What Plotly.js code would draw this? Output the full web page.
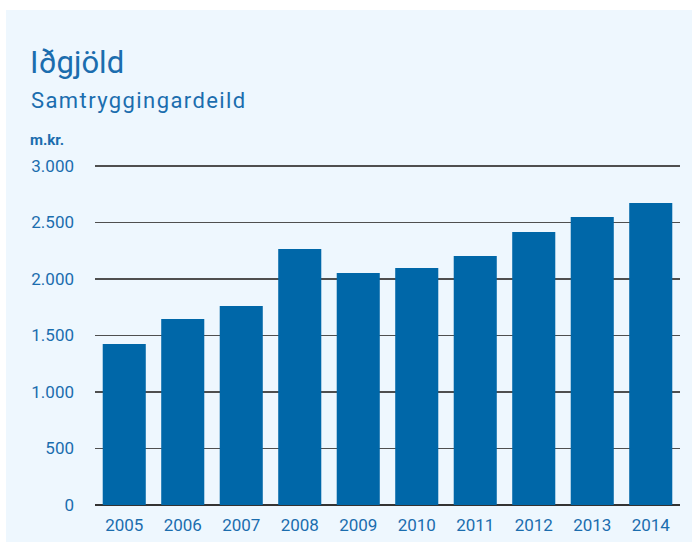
<!DOCTYPE html>
<html>
<head>
<meta charset="utf-8">
<script src="https://cdn.plot.ly/plotly-3.0.1.min.js"></script>
<style>html,body{margin:0;padding:0;background:#fff;}#chart{width:692px;height:542px;}</style>
</head>
<body>
<div id="chart"></div>
<script>
const years = ["2005","2006","2007","2008","2009","2010","2011","2012","2013","2014"];
const values = [1425, 1646, 1761, 2265, 2053, 2097, 2204, 2416, 2549, 2673];
const yTicks = [0, 500, 1000, 1500, 2000, 2500, 3000];
const titleText = "Iðgjöld";
const subtitleText = "Samtryggingardeild";
const unitText = "m.kr.";

const textColor = "#1B6DAE";
const L = 95, R = 12, T = 163, B = 37, W = 692, H = 542;
const pw = W - L - R, ph = H - T - B;
const px = x => (x - L) / pw;
const py = y => (H - B - y) / ph;
const yTop = 3000 * ph / 339;

const trace = {
  type: "bar",
  x: years,
  y: values,
  marker: {color: "#0067A8"},
  hoverinfo: "x+y"
};

const layout = {
  width: W, height: H,
  margin: {l: L, r: R, t: T, b: B, pad: 0},
  paper_bgcolor: "#ffffff",
  plot_bgcolor: "rgba(0,0,0,0)",
  separators: ",.",
  bargap: 0.264,
  showlegend: false,
  font: {family: "Roboto, sans-serif", color: textColor},
  xaxis: {
    type: "category",
    showgrid: false,
    showline: false,
    zeroline: false,
    ticks: "",
    tickfont: {size: 17, color: textColor},
    ticklabelstandoff: 8
  },
  yaxis: {
    range: [0, yTop],
    tickvals: yTicks,
    tickformat: ",d",
    showgrid: true,
    gridcolor: "#4f4f4f",
    gridwidth: 1.6,
    zeroline: true,
    zerolinecolor: "#333333",
    zerolinewidth: 1.6,
    showline: false,
    ticks: "",
    tickfont: {size: 17, color: textColor},
    ticklabelstandoff: 20
  },
  shapes: [{
    type: "rect", xref: "paper", yref: "paper", layer: "below",
    x0: px(6), x1: px(W + 10), y0: py(H + 10), y1: py(10),
    fillcolor: "#EEF7FE", line: {width: 0}
  }],
  annotations: [
    {text: titleText, xref: "paper", yref: "paper", x: px(28), y: py(62),
     xanchor: "left", yanchor: "middle", showarrow: false,
     font: {size: 31, color: textColor, family: "Roboto, sans-serif"}},
    {text: subtitleText, xref: "paper", yref: "paper", x: px(29), y: py(100),
     xanchor: "left", yanchor: "middle", showarrow: false,
     font: {size: 22, color: textColor, family: "Roboto, sans-serif"}},
    {text: "<b>" + unitText + "</b>", xref: "paper", yref: "paper", x: px(28), y: py(140),
     xanchor: "left", yanchor: "middle", showarrow: false,
     font: {size: 15, color: textColor, family: "Roboto, sans-serif"}}
  ]
};

Plotly.newPlot("chart", [trace], layout, {displayModeBar: false, staticPlot: true}).then(() => {
  const ann = document.querySelectorAll("#chart .annotation-text");
  const el = ann[1];
  if (el) {
    const before = el.getBBox().x;
    el.style.letterSpacing = "1.4px";
    const after = el.getBBox().x;
    const prev = el.getAttribute("transform") || "";
    el.setAttribute("transform", prev + " translate(" + (before - after) + ",0)");
  }
});
</script>
</body>
</html>
